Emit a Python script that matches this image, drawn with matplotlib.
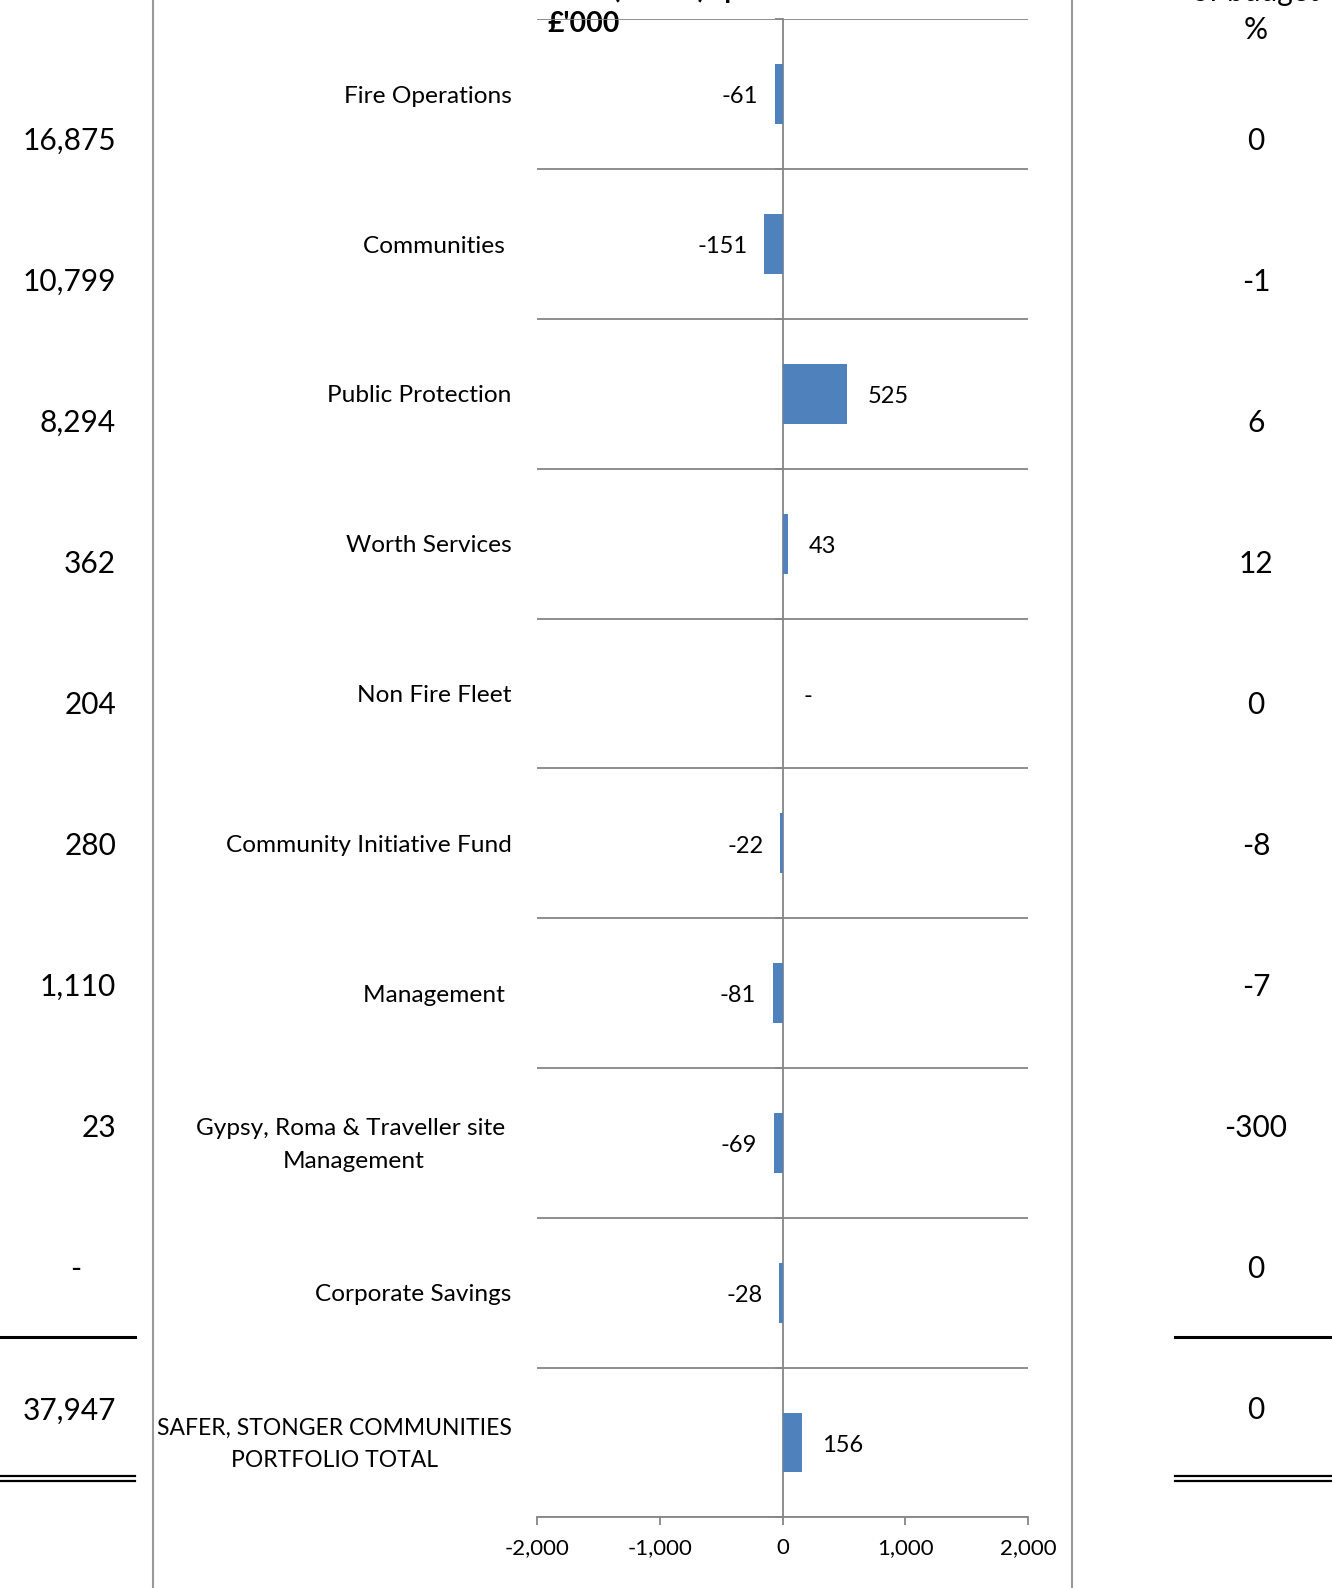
import matplotlib
matplotlib.use("Agg")
import matplotlib.pyplot as plt
from matplotlib.lines import Line2D
from matplotlib.transforms import offset_copy

plt.rcParams['font.family'] = ['Lato', 'DejaVu Sans']

# data
categories = ["Fire Operations", "Communities ", "Public Protection", "Worth Services",
              "Non Fire Fleet", "Community Initiative Fund", "Management ",
              "Gypsy, Roma & Traveller site \nManagement", "Corporate Savings",
              "SAFER, STONGER COMMUNITIES\nPORTFOLIO TOTAL"]
variance = [-61, -151, 525, 43, 0, -22, -81, -69, -28, 156]
budget = [16875, 10799, 8294, 362, 204, 280, 1110, 23, 0, 37947]
pct_budget = [0, -1, 6, 12, 0, -8, -7, -300, 0, 0]
xticks = [-2000, -1000, 0, 1000, 2000]

W, H = 1332, 1588
fig = plt.figure(figsize=(W / 100, H / 100), dpi=100)

# overlay in pixel coords for the table parts
ov = fig.add_axes([0, 0, 1, 1], zorder=0)
ov.set_xlim(0, W)
ov.set_ylim(H, 0)
ov.axis('off')

grey = '#868686'

def fmt(v):
    return '-' if v == 0 else f'{v:,}'

# table rows left / right
row0, rstep = 140.5, 141.1
for i, (b, p) in enumerate(zip(budget, pct_budget)):
    y = row0 + i * rstep
    if b == 0:
        ov.text(76, y, '-', ha='center', va='center', fontsize=21.5)
    else:
        ov.text(116, y, fmt(b), ha='right', va='center', fontsize=21.5)
    ov.text(1256, y, str(p), ha='center', va='center', fontsize=21.5)

# vertical separators
ov.add_line(Line2D([153, 153], [0, H], color='#999999', lw=1.5))
ov.add_line(Line2D([1072, 1072], [0, H], color='#999999', lw=1.5))

# total rules
for x0, x1 in [(0, 135), (1175, W)]:
    ov.add_line(Line2D([x0, x1], [1337, 1337], color='black', lw=2.2))
    ov.add_line(Line2D([x0, x1], [1475.5, 1475.5], color='black', lw=1.6))
    ov.add_line(Line2D([x0, x1], [1481, 1481], color='black', lw=1.6))

# headers, clipped at the top edge as in the source
ov.text(1256, 6, 'of budget', ha='center', va='bottom', fontsize=21.5)
ov.text(1256, 30, '%', ha='center', va='center', fontsize=21.5)
ov.text(655, 3, 'Over / (Under) spend', ha='center', va='bottom', fontsize=20, fontweight='bold')
ov.text(547, 24, "£'000", ha='left', va='center', fontsize=20.5, fontweight='bold', zorder=5)

# chart
left, right = 537 / W, 1028 / W
top, bottom = 1 - 19.3 / H, 1 - 1517.4 / H
ax = fig.add_axes([left, bottom, right - left, top - bottom], zorder=1)
ax.patch.set_visible(False)

n = len(categories)
ypos = list(range(n))
ax.barh(ypos, variance, height=0.4, color='#4F81BD', zorder=3)
ax.set_xlim(-2000, 2000)
ax.set_ylim(n - 0.5, -0.5)

for k in range(n + 1):
    ax.axhline(k - 0.5, color=grey, lw=1.3, zorder=1)

for s in ['top', 'right']:
    ax.spines[s].set_visible(False)
ax.spines['left'].set_position(('data', 0))
ax.spines['left'].set_color(grey)
ax.spines['left'].set_linewidth(1.3)
ax.spines['left'].set_zorder(2)
ax.spines['bottom'].set_color(grey)
ax.spines['bottom'].set_linewidth(1.3)
ax.set_yticks([k - 0.5 for k in range(n + 1)])
ax.set_yticklabels([])
ax.tick_params(axis='y', length=6, color=grey, width=1.3, direction='out')

ax.set_xticks(xticks)
ax.set_xticklabels([f'{t:,}' for t in xticks], fontsize=16)
ax.tick_params(axis='x', length=6, color=grey, width=1.3, pad=9)

for yi, v in zip(ypos, variance):
    if v < 0:
        ax.annotate(fmt(v), (v, yi), xytext=(-12, -2), textcoords='offset points',
                    ha='right', va='center', fontsize=17)
    else:
        ax.annotate(fmt(v), (v, yi), xytext=(15, -2), textcoords='offset points',
                    ha='left', va='center', fontsize=17)

# category labels (the upper-case total label is set a little smaller so it
# stays clear of the left separator, as in the source)
tr = offset_copy(ax.get_yaxis_transform(), fig=fig, x=0, y=-1.5, units='points')
for yi, c in zip(ypos, categories):
    size = 16.5 if c.isupper() else 17.6
    ax.text(-0.052, yi, c, transform=tr, ha='right', va='center',
            multialignment='center', fontsize=size, linespacing=1.68, clip_on=False)

fig.savefig('out.png', dpi=100)
